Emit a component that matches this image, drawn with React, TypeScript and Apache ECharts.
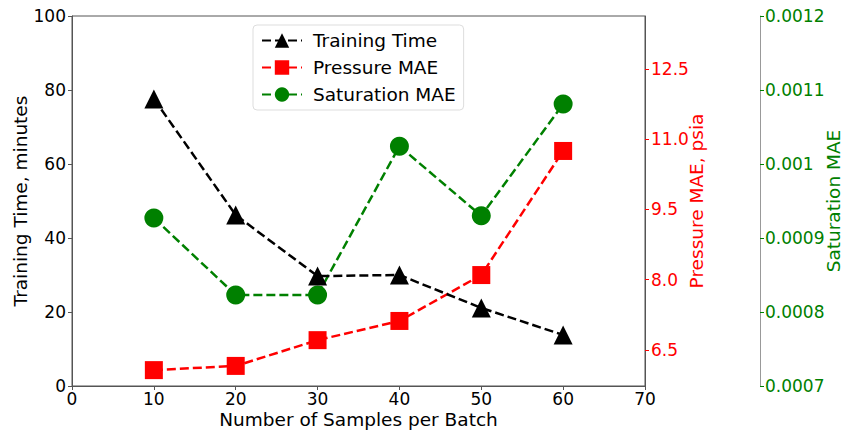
import React, { useEffect, useRef } from "react";
import * as echarts from "echarts";

const batchSizes = [10, 20, 30, 40, 50, 60];
const trainingTime = [77.6, 46.2, 29.7, 30.0, 21.1, 13.8];
const pressureMAE = [6.07, 6.16, 6.71, 7.12, 8.1, 10.75];
const saturationMAE = [0.000927, 0.000823, 0.000823, 0.001024, 0.00093, 0.001081];
const pressureTicks = [6.5, 8.0, 9.5, 11.0, 12.5];

const FONT = "DejaVu Sans";
const AXIS_COLOR = "#555";
const TICK_FS = 17;
const TITLE_FS = 18.5;

export default function App() {
  const ref = useRef<HTMLDivElement>(null);
  useEffect(() => {
    if (!ref.current) return;
    const chart = echarts.init(ref.current, null, { renderer: "svg" });
    const pair = (ys: number[]) => batchSizes.map((x, i) => [x, ys[i]]);
    const dashed = { type: [9, 4] as any, width: 2.5 };
    chart.setOption({
      animation: false,
      textStyle: { fontFamily: FONT },
      grid: {
        left: 72,
        right: 199,
        top: 16,
        bottom: 44,
        outerBoundsMode: "none",
        containLabel: false,
        show: true,
        borderColor: AXIS_COLOR,
        borderWidth: 1,
        backgroundColor: "transparent",
      },
      legend: {
        left: 253,
        top: 25,
        orient: "vertical",
        backgroundColor: "#fff",
        borderColor: "#ddd",
        borderWidth: 1,
        borderRadius: 4,
        padding: [6, 8, 6, 8],
        itemGap: 8,
        itemWidth: 40,
        itemHeight: 18,
        textStyle: { fontFamily: FONT, fontSize: TITLE_FS, color: "#000", padding: [0, 0, 0, 6] },
        data: ["Training Time", "Pressure MAE", "Saturation MAE"],
      },
      xAxis: {
        type: "value",
        min: 0,
        max: 70,
        interval: 10,
        name: "Number of Samples per Batch",
        nameLocation: "middle",
        nameGap: 24,
        nameMoveOverlap: false,
        nameTextStyle: { fontFamily: FONT, fontSize: TITLE_FS, color: "#000" },
        axisLine: { lineStyle: { color: AXIS_COLOR } },
        axisTick: { show: true, length: 4, lineStyle: { color: AXIS_COLOR } },
        axisLabel: { fontFamily: FONT, fontSize: TICK_FS, color: "#000", margin: 4 },
        splitLine: { show: false },
      },
      yAxis: [
        {
          type: "value",
          min: 0,
          max: 100,
          interval: 20,
          position: "left",
          name: "Training Time, minutes",
          nameLocation: "middle",
          nameGap: 42,
          nameMoveOverlap: false,
          nameTextStyle: { fontFamily: FONT, fontSize: TITLE_FS, color: "#000" },
          axisLine: { show: true, lineStyle: { color: AXIS_COLOR } },
          axisTick: { show: true, length: 4, lineStyle: { color: AXIS_COLOR } },
          axisLabel: { fontFamily: FONT, fontSize: TICK_FS, color: "#000", margin: 6 },
          splitLine: { show: false },
        },
        {
          type: "value",
          min: 5.731,
          max: 13.632,
          position: "right",
          name: "Pressure MAE, psia",
          nameLocation: "middle",
          nameGap: 42,
          nameMoveOverlap: false,
          nameTextStyle: { fontFamily: FONT, fontSize: TITLE_FS, color: "#ff0000" },
          axisLine: { show: true, lineStyle: { color: AXIS_COLOR } },
          axisTick: {
            show: true,
            length: 4,
            customValues: pressureTicks,
            lineStyle: { color: "#ff0000" },
          },
          axisLabel: {
            fontFamily: FONT,
            fontSize: TICK_FS,
            color: "#ff0000",
            margin: 6,
            customValues: pressureTicks,
            formatter: (v: number) => v.toFixed(1),
          },
          splitLine: { show: false },
        },
        {
          type: "value",
          min: 0.0007,
          max: 0.0012,
          interval: 0.0001,
          position: "right",
          offset: 115,
          name: "Saturation MAE",
          nameLocation: "middle",
          nameGap: 64,
          nameMoveOverlap: false,
          nameTextStyle: { fontFamily: FONT, fontSize: TITLE_FS, color: "#008000" },
          axisLine: { show: true, lineStyle: { color: "#999" } },
          axisTick: { show: true, length: 4, lineStyle: { color: "#008000" } },
          axisLabel: {
            fontFamily: FONT,
            fontSize: TICK_FS,
            color: "#008000",
            margin: 5,
            formatter: (v: number) => String(parseFloat(v.toPrecision(6))),
          },
          splitLine: { show: false },
        },
      ],
      series: [
        {
          name: "Training Time",
          type: "line",
          yAxisIndex: 0,
          data: pair(trainingTime),
          symbol: "triangle",
          symbolSize: 19,
          itemStyle: { color: "#000" },
          lineStyle: { ...dashed, color: "#000" },
          z: 3,
        },
        {
          name: "Pressure MAE",
          type: "line",
          yAxisIndex: 1,
          data: pair(pressureMAE),
          symbol: "rect",
          symbolSize: 18,
          itemStyle: { color: "#ff0000" },
          lineStyle: { ...dashed, color: "#ff0000" },
          z: 2,
        },
        {
          name: "Saturation MAE",
          type: "line",
          yAxisIndex: 2,
          data: pair(saturationMAE),
          symbol: "circle",
          symbolSize: 19,
          itemStyle: { color: "#008000" },
          lineStyle: { ...dashed, color: "#008000" },
          z: 2,
        },
      ],
    });
    return () => chart.dispose();
  }, []);
  return <div ref={ref} style={{ width: 844, height: 430, position: "absolute", left: 0, top: 0 }} />;
}
